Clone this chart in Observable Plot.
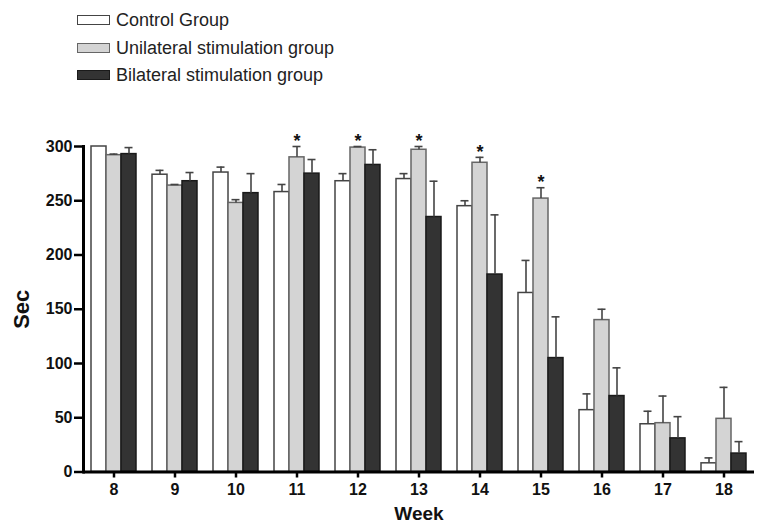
<!DOCTYPE html>
<html><head><meta charset="utf-8">
<script src="https://cdn.jsdelivr.net/npm/d3@7"></script>
<script src="https://cdn.jsdelivr.net/npm/@observablehq/plot@0.6"></script>
<style>
body{margin:0;background:#fff;font-family:"Liberation Sans",Arial,sans-serif;}
#legend{position:relative;width:758px;height:100px;}
.row{position:absolute;left:77px;height:22px;display:flex;align-items:center;font-size:18px;color:#222;white-space:nowrap;}
.sw{width:33px;height:10px;box-sizing:border-box;border:1px solid #333;margin-right:6px;}
</style></head><body>
<div id="legend"></div><div id="chart"></div>
<script>
// ---- data ----
const weeks = [8, 9, 10, 11, 12, 13, 14, 15, 16, 17, 18];
const groups = ["Control Group", "Unilateral stimulation group", "Bilateral stimulation group"];
const control       = [300, 274, 276, 258, 268, 270, 245, 165, 57, 44, 8];
const controlErr    = [0, 4, 5, 7, 7, 5, 5, 30, 15, 12, 5];
const unilateral    = [292, 264, 248, 290, 299, 297, 285, 252, 140, 45, 49];
const unilateralErr = [1, 1, 3, 10, 1, 3, 5, 10, 10, 25, 29];
const bilateral     = [293, 268, 257, 275, 283, 235, 182, 105, 70, 31, 17];
const bilateralErr  = [6, 8, 18, 13, 14, 33, 55, 38, 26, 20, 11];
const starWeeks = [11, 12, 13, 14, 15];
const yTicks = [0, 50, 100, 150, 200, 250, 300];

// ---- styles ----
const fills = ["#ffffff", "#d4d4d4", "#333333"];
const strokes = ["#444444", "#666666", "#1a1a1a"];
const legendTops = [9, 37, 64];

// legend
const legend = document.getElementById("legend");
groups.forEach((g, j) => {
  const row = document.createElement("div");
  row.className = "row";
  row.style.top = legendTops[j] + "px";
  const sw = document.createElement("span");
  sw.className = "sw";
  sw.style.background = fills[j];
  sw.style.borderColor = strokes[j];
  row.appendChild(sw);
  const t = document.createElement("span");
  t.textContent = g;
  row.appendChild(t);
  legend.appendChild(row);
});

const series = [control, unilateral, bilateral];
const errs = [controlErr, unilateralErr, bilateralErr];
const rows = weeks.flatMap((w, i) => groups.map((g, j) => ({week: w, group: g, value: series[j][i], err: errs[j][i]})));
const errRows = rows.filter(d => d.err > 0);
const starRows = rows.filter(d => d.group === groups[1] && starWeeks.includes(d.week));

const chart = Plot.plot({
  width: 758, height: 425,
  marginLeft: 79, marginRight: 0, marginTop: 46, marginBottom: 53.5,
  style: {fontFamily: '"Liberation Sans", Arial, sans-serif', background: "#fff", color: "#111", overflow: "visible"},
  fx: {domain: weeks, padding: 0},
  x: {domain: groups, paddingInner: 0, paddingOuter: 0.5, axis: null},
  y: {domain: [0, 300]},
  marks: [
    ...groups.map((g, j) => Plot.barY(rows.filter(d => d.group === g), {
      fx: "week", x: "group", y: "value", fill: fills[j], stroke: strokes[j], strokeWidth: 1.5
    })),
    Plot.ruleX(errRows, {fx: "week", x: "group", y1: "value", y2: d => d.value + d.err, stroke: "#444", strokeWidth: 1.6}),
    Plot.tickY(errRows, {fx: "week", x: "group", y: d => d.value + d.err, stroke: "#444", strokeWidth: 1.6, insetLeft: 3.5, insetRight: 3.5}),
    Plot.text(starRows, {fx: "week", x: "group", y: d => d.value + d.err, text: () => "*", dy: -5, fontSize: 18, fontWeight: "bold", fill: "#111"}),
    Plot.ruleY([0], {stroke: "#000", strokeWidth: 3}),
    Plot.frame({anchor: "left", facetAnchor: "left", stroke: "#000", strokeWidth: 3}),
    Plot.axisY({ticks: yTicks, tickSize: 9, tickPadding: 2, strokeWidth: 2.5, stroke: "#000", fill: "#111", fontSize: 16, fontWeight: "bold", label: null}),
    Plot.axisY({ticks: [], label: "Sec", labelAnchor: "center", labelArrow: false, labelOffset: 70, fill: "#111", fontSize: 22, fontWeight: "bold"}),
    Plot.axisFx({anchor: "bottom", tickSize: 6, tickPadding: 6, strokeWidth: 2.5, stroke: "#000", fill: "#111", fontSize: 16, fontWeight: "bold", label: null}),
    Plot.axisFx({anchor: "bottom", ticks: [], label: "Week", labelAnchor: "center", labelArrow: false, labelOffset: 48, fill: "#111", fontSize: 19, fontWeight: "bold"})
  ]
});
document.getElementById("chart").appendChild(chart);
</script>
</body></html>
